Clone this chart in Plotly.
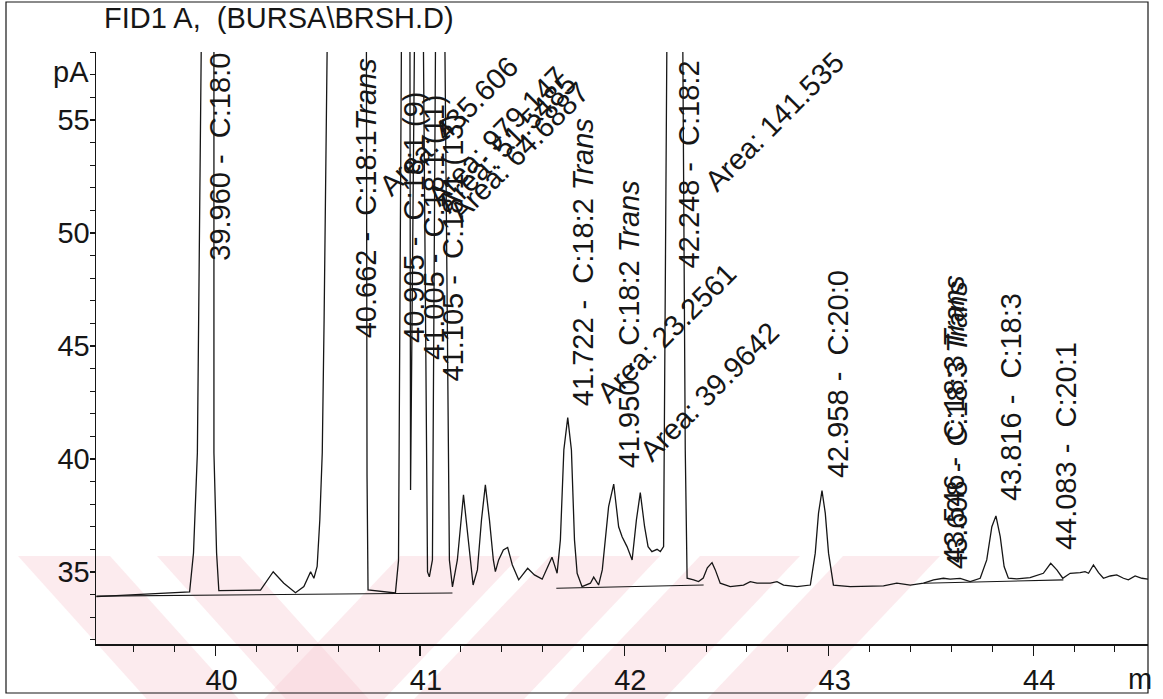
import plotly.graph_objects as go

# ---------------- data ----------------
# retention time (min) and detector signal (pA); peaks that go off scale
# are given an apex above the visible range.
time_min = [39.417, 39.682, 39.873, 39.892, 39.911, 39.930, 39.961, 39.992, 39.992, 40.005, 40.016,
            40.220, 40.282, 40.334, 40.391, 40.432, 40.465, 40.481, 40.497, 40.510, 40.522, 40.531, 40.538,
            40.660, 40.738, 40.741, 40.746, 40.880, 40.895, 40.910, 40.929, 40.951, 40.954,
            40.973, 40.998, 41.017, 41.037, 41.046, 41.061, 41.076, 41.100, 41.122, 41.144, 41.159,
            41.183, 41.213, 41.237, 41.260, 41.281, 41.301, 41.320, 41.340, 41.359, 41.369, 41.385,
            41.408, 41.429, 41.452, 41.483, 41.501, 41.527, 41.560, 41.598, 41.623, 41.646, 41.658,
            41.671, 41.687, 41.704, 41.723, 41.741, 41.756, 41.769, 41.793, 41.814, 41.834, 41.850,
            41.874, 41.892, 41.907, 41.923, 41.948, 41.972, 41.989, 42.013, 42.038, 42.059, 42.078,
            42.099, 42.116, 42.135, 42.160, 42.176, 42.192, 42.208, 42.249, 42.286, 42.298, 42.307,
            42.339, 42.363, 42.386, 42.406, 42.429, 42.445, 42.469, 42.518, 42.583, 42.616, 42.649,
            42.714, 42.747, 42.779, 42.845, 42.910, 42.934, 42.950, 42.967, 42.983, 42.999, 43.023,
            43.105, 43.268, 43.333, 43.399, 43.464, 43.513, 43.561, 43.594, 43.643, 43.692, 43.741,
            43.773, 43.798, 43.818, 43.839, 43.858, 43.879, 43.920, 43.985, 44.050, 44.086, 44.116,
            44.145, 44.181, 44.230, 44.254, 44.271, 44.295, 44.320, 44.344, 44.377, 44.409, 44.442,
            44.466, 44.499, 44.532, 44.564]
signal_pA = [33.91, 34.03, 34.12, 35.84, 40.27, 58.3, 95.0, 58.3, 40.27, 35.84, 34.17,
             34.20, 35.01, 34.50, 34.08, 34.35, 35.01, 34.72, 35.24, 37.30, 40.27, 46.15, 58.3,
             150.0, 58.3, 39.29, 34.20, 34.07, 35.50, 58.3, 90.0, 58.3, 38.63,
             58.3, 80.0, 58.3, 35.00, 34.78, 35.53, 58.3, 70.0, 58.3, 35.53, 34.34,
             35.53, 38.41, 36.42, 34.42, 35.09, 37.30, 38.85, 37.30, 35.53, 35.01, 35.53,
             35.97, 36.08, 35.31, 34.65, 34.87, 35.16, 34.87, 34.68, 35.18, 35.65, 35.31,
             34.94, 36.42, 40.40, 41.83, 40.40, 36.42, 34.94, 34.35, 34.42, 34.50, 34.77,
             34.42, 35.09, 36.56, 37.89, 38.89, 37.00, 36.56, 36.12, 35.53, 37.30, 38.51,
             37.00, 36.12, 35.90, 36.00, 35.90, 36.12, 58.3, 250.0, 58.3, 40.40, 34.72,
             34.65, 34.57, 34.73, 35.18, 35.41, 35.09, 34.50, 34.35, 34.42, 34.57, 34.50,
             34.50, 34.57, 34.42, 34.35, 34.42, 35.83, 37.60, 38.60, 37.60, 35.83, 34.42,
             34.35, 34.38, 34.50, 34.42, 34.50, 34.65, 34.72, 34.68, 34.71, 34.57, 34.72,
             35.53, 37.00, 37.48, 36.56, 35.24, 34.72, 34.69, 34.75, 34.94, 35.38, 35.09,
             34.72, 34.94, 34.97, 35.01, 34.94, 35.31, 34.97, 34.72, 34.82, 34.87, 34.72,
             34.65, 34.82, 34.72, 34.68]

# integrator baselines (start/end time, start/end signal)
baseline_t = [[39.417, 41.159], [41.667, 42.388], [43.464, 44.148]]
baseline_v = [[33.93, 34.07], [34.28, 34.42], [34.50, 34.65]]

# peak labels: text, time of the label's left edge, signal at the label's foot
peak_text = ["39.960 -  C:18:0", "40.662 -  C:18:1<i>Trans</i>", "40.905 -  C:18:1 (9)",
             "41.005 -  C:18:1 (11)", "41.105 -  C:18:1 (13)", "41.722 -  C:18:2 <i>Trans</i>",
             "41.950 -  C:18:2 <i>Trans</i>", "42.248 -  C:18:2", "42.958 -  C:20:0",
             "43.546 -  C:18:3 <i>Trans</i>", "43.608 -  C:18:3 <i>Trans</i>", "43.816 -  C:18:3",
             "44.083 -  C:20:1"]
peak_text_t = [39.932, 40.645, 40.880, 40.978, 41.076, 41.711, 41.936, 42.230, 42.958,
               43.526, 43.540, 43.804, 44.073]
peak_text_v = [48.67, 45.27, 45.04, 44.29, 43.36, 42.26, 39.51, 48.36, 39.07,
               35.31, 35.04, 38.05, 35.88]

area_text = ["Area: 435.606", "Area: 979.147", "Area: 51.5485", "Area: 64.6887",
             "Area: 23.2561", "Area: 39.9642", "Area: 141.535"]
area_t = [40.758, 40.993, 41.042, 41.100, 41.824, 42.029, 42.347]
area_v = [51.24, 50.80, 50.49, 50.13, 42.08, 39.51, 51.46]

x_ticks = [40, 41, 42, 43, 44]
y_ticks = [35, 40, 45, 50, 55]

# ---------------- figure ----------------
FONT = "Liberation Sans, Arial, sans-serif"
INK = "#161616"
FS = 29
W, H = 1163, 699
L, R, T, B = 96, 15, 52, 55
PW, PH = W - L - R, H - T - B


def px(x):  # pixel column -> paper x
    return (x - L) / PW


def py(y):  # pixel row -> paper y
    return (H - B - y) / PH


fig = go.Figure()
fig.add_trace(go.Scatter(x=time_min, y=signal_pA, mode="lines",
                         line=dict(color=INK, width=1.3), hoverinfo="skip"))
for bt, bv in zip(baseline_t, baseline_v):
    fig.add_trace(go.Scatter(x=bt, y=bv, mode="lines",
                             line=dict(color=INK, width=1.1), hoverinfo="skip"))

annotations = []
for txt, t, v in zip(peak_text, peak_text_t, peak_text_v):
    annotations.append(dict(x=t, y=v, xref="x", yref="y", text=txt, showarrow=False,
                            textangle=-90, xanchor="left", yanchor="bottom",
                            font=dict(family=FONT, size=FS, color=INK)))
for txt, t, v in zip(area_text, area_t, area_v):
    annotations.append(dict(x=t, y=v, xref="x", yref="y", text=txt, showarrow=False,
                            textangle=-45, xanchor="left", yanchor="bottom",
                            font=dict(family=FONT, size=FS, color=INK)))

annotations += [
    dict(x=px(102), y=py(18), xref="paper", yref="paper", text="FID1 A,  (BURSA\\BRSH.D)",
         showarrow=False, xanchor="left", yanchor="middle",
         font=dict(family=FONT, size=FS, color=INK)),
    dict(x=px(91), y=py(72), xref="paper", yref="paper", text="pA", showarrow=False,
         xanchor="right", yanchor="middle", font=dict(family=FONT, size=FS, color=INK)),
    dict(x=px(1140), y=py(679), xref="paper", yref="paper", text="m", showarrow=False,
         xanchor="center", yanchor="middle", font=dict(family=FONT, size=FS, color=INK)),
]

# faint pink diagonal watermark bands of the scanned page
PINK = "rgba(248,205,212,0.40)"
top_y, bot_y = 556, 699
drop = bot_y - top_y
shapes = []
for x0, x1 in [(18, 110), (157, 240)]:          # bands leaning "\"
    shapes.append(dict(type="path", xref="paper", yref="paper", layer="below",
                       path=f"M {px(x0)},{py(top_y)} L {px(x1)},{py(top_y)} "
                            f"L {px(x1 + 0.9 * drop)},{py(bot_y)} L {px(x0 + 0.9 * drop)},{py(bot_y)} Z",
                       fillcolor=PINK, line=dict(width=0)))
for x0, x1 in [(400, 520), (550, 660), (700, 800), (843, 940)]:   # bands leaning "/"
    shapes.append(dict(type="path", xref="paper", yref="paper", layer="below",
                       path=f"M {px(x0)},{py(top_y)} L {px(x1)},{py(top_y)} "
                            f"L {px(x1 - 0.95 * drop)},{py(bot_y)} L {px(x0 - 0.95 * drop)},{py(bot_y)} Z",
                       fillcolor=PINK, line=dict(width=0)))
# outer frame of the printout
shapes.append(dict(type="rect", xref="paper", yref="paper", x0=px(6), x1=1.0, y0=py(693), y1=py(2),
                   line=dict(color=INK, width=1.2), fillcolor="rgba(0,0,0,0)", layer="above"))

fig.update_layout(
    width=W, height=H,
    margin=dict(l=L, r=R, t=T, b=B, autoexpand=False),
    paper_bgcolor="white", plot_bgcolor="rgba(0,0,0,0)",
    showlegend=False,
    hovermode=False,
    font=dict(family=FONT, size=FS, color=INK),
    annotations=annotations,
    shapes=shapes,
    xaxis=dict(range=[39.415, 44.562], tickvals=x_ticks, ticks="outside", ticklen=10,
               tickwidth=1.2, tickcolor=INK, showline=True, linecolor=INK, linewidth=1.5,
               showgrid=False, zeroline=False, ticklabelstandoff=0, ticklabelshift=6,
               automargin=False, fixedrange=True,
               tickfont=dict(family=FONT, size=FS, color=INK),
               minor=dict(dtick=0.2, tick0=40, ticks="outside", ticklen=6, tickcolor=INK,
                          tickwidth=1, showgrid=False)),
    yaxis=dict(range=[31.81, 58.01], tickvals=y_ticks, ticks="outside", ticklen=5,
               tickwidth=1.2, tickcolor=INK, showline=True, linecolor=INK, linewidth=1.5,
               showgrid=False, zeroline=False, ticklabelstandoff=-6, automargin=False,
               fixedrange=True,
               tickfont=dict(family=FONT, size=FS, color=INK),
               minor=dict(dtick=1, tick0=35, ticks="outside", ticklen=5, tickcolor=INK,
                          tickwidth=1, showgrid=False)),
)

fig.write_html("out.html", config={"displayModeBar": False, "staticPlot": True},
               post_script="document.body.style.margin='0';document.body.style.overflow='hidden';")
